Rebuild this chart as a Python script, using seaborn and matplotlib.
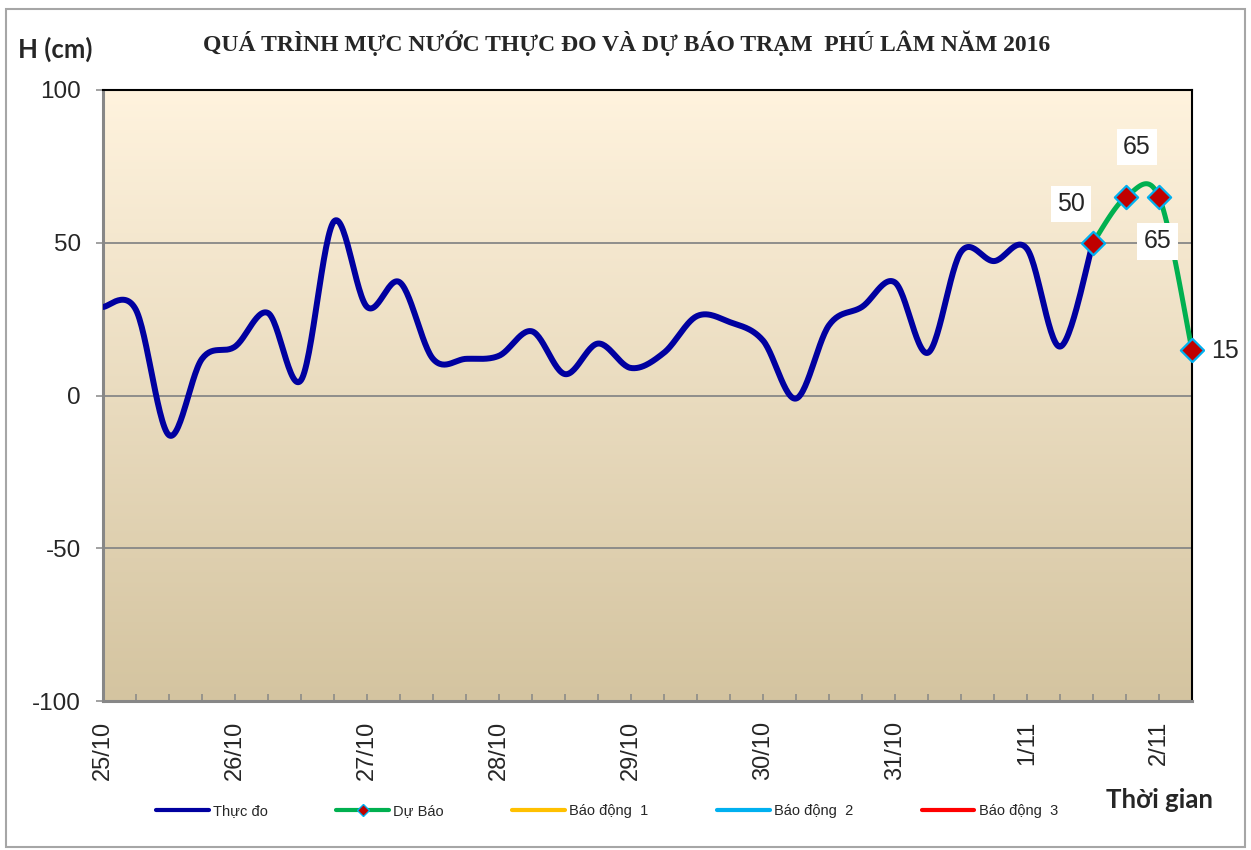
import numpy as np
import seaborn as sns
import matplotlib.pyplot as plt
from matplotlib.colors import LinearSegmentedColormap
from matplotlib.lines import Line2D
from matplotlib.patches import Rectangle

# 6-hourly water level at Phu Lam station, cm
day_labels = ['25/10', '26/10', '27/10', '28/10', '29/10', '30/10', '31/10', '1/11', '2/11']
thuc_do = [29, 28, -13, 12, 16, 27, 5, 57, 29, 37, 12, 12, 13, 21, 7, 17,
           9, 14, 26, 24, 18, -1, 23, 29, 37, 14, 47, 44, 48, 16, 50]
du_bao = [50, 65, 65, 15]
bao_dong = [140, 150, 160]
legend_names = ['Thực đo', 'Dự Báo', 'Báo động  1', 'Báo động  2', 'Báo động  3']

forecast_start = len(thuc_do) - 1
n_steps = forecast_start + len(du_bao) - 1


def smooth(xv, yv, n=30):
    # excel style smoothed line (bezier through the points)
    p = np.column_stack([xv, yv]).astype(float)
    ext = np.vstack([p[0], p, p[-1]])
    t = np.linspace(0, 1, n)[:, None]
    out = []
    for i in range(len(p) - 1):
        p0, p1 = ext[i + 1], ext[i + 2]
        c1 = p0 + (ext[i + 2] - ext[i]) / 6
        c2 = p1 - (ext[i + 3] - ext[i + 1]) / 6
        seg = (1 - t) ** 3 * p0 + 3 * (1 - t) ** 2 * t * c1 + 3 * (1 - t) * t ** 2 * c2 + t ** 3 * p1
        out.append(seg if i == 0 else seg[1:])
    out = np.vstack(out)
    return out[:, 0], out[:, 1]


sns.set_style('white')
plt.rcParams['font.family'] = ['Liberation Sans', 'DejaVu Sans']
plt.rcParams['axes.unicode_minus'] = False

fig = plt.figure(figsize=(12.51, 8.5), dpi=100)
ax = fig.add_axes([103 / 1251, 1 - 701 / 850, (1192 - 103) / 1251, (701 - 90) / 850])

bg = LinearSegmentedColormap.from_list('bg', ['#FFF3DE', '#D4C4A0'])
ax.imshow(np.linspace(0, 1, 256).reshape(-1, 1), cmap=bg, aspect='auto',
          extent=[0, n_steps, -100, 100], origin='upper', zorder=0)

x_obs = np.arange(len(thuc_do))
x_fc = np.arange(forecast_start, forecast_start + len(du_bao))

sx, sy = smooth(x_obs, thuc_do)
sns.lineplot(x=sx, y=sy, ax=ax, color='#0000A0', lw=4.3, sort=False, estimator=None, zorder=3)
fx, fy = smooth(x_fc, du_bao)
sns.lineplot(x=fx, y=fy, ax=ax, color='#00B050', lw=3.6, sort=False, estimator=None, zorder=4)
sns.scatterplot(x=x_fc, y=du_bao, ax=ax, marker='D', s=140, color='#C00000',
                edgecolor='#00B0F0', linewidth=1.6, zorder=5, clip_on=False)

bd_colors = ['#FFC000', '#00B0F0', '#FF0000']
for level, c in zip(bao_dong, bd_colors):
    ax.axhline(level, color=c, lw=3)

ax.set_xlim(0, n_steps)
ax.set_ylim(-100, 100)
ax.set_yticks([-100, -50, 0, 50, 100])
ax.set_xticks(range(n_steps + 1))
ax.set_xticklabels([day_labels[i // 4] if i % 4 == 0 else '' for i in range(n_steps + 1)])
ax.set_xlabel('')
ax.set_ylabel('')
ax.yaxis.grid(True, color='#878787', lw=1.3)
ax.set_axisbelow(True)

ax.tick_params(axis='x', direction='in', length=5, width=1.1, color='#878787',
               pad=14, labelrotation=90, labelsize=17, bottom=True)
ax.tick_params(axis='y', direction='out', length=5, width=1.1, color='#878787',
               pad=11, labelsize=17.5, left=True)
for s in ['left', 'bottom']:
    ax.spines[s].set_color('#878787')
    ax.spines[s].set_linewidth(2.2)
for s in ['top', 'right']:
    ax.spines[s].set_color('black')
    ax.spines[s].set_linewidth(1.5)

box = dict(boxstyle='square,pad=0.25', fc='white', ec='none')
label_offsets = [(-16, 28), (8, 36), (-1, -32), (24, -1)]
for xi, yi, off in zip(x_fc, du_bao, label_offsets):
    ax.annotate(str(yi), xy=(xi, yi), xytext=off, textcoords='offset points',
                ha='center', va='center', fontsize=18, bbox=box, zorder=6)

fig.text(627 / 1251, 1 - 43 / 850, 'QUÁ TRÌNH MỰC NƯỚC THỰC ĐO VÀ DỰ BÁO TRẠM  PHÚ LÂM NĂM 2016',
         ha='center', va='center', fontsize=17, fontweight='bold',
         family=['Liberation Serif', 'DejaVu Serif'])
fig.text(18 / 1251, 1 - 49 / 850, 'H (cm)', ha='left', va='center', fontsize=18.5,
         fontweight='bold', family=['Lato', 'DejaVu Sans'])
fig.text(1160 / 1251, 1 - 800 / 850, 'Thời gian', ha='center', va='center', fontsize=18.5,
         fontweight='bold', family=['Lato', 'DejaVu Sans'])

handles = [Line2D([], [], color='#0000A0', lw=3),
           Line2D([], [], color='#00B050', lw=3, marker='D', markersize=6,
                  markerfacecolor='#C00000', markeredgecolor='#00B0F0'),
           Line2D([], [], color=bd_colors[0], lw=3),
           Line2D([], [], color=bd_colors[1], lw=3),
           Line2D([], [], color=bd_colors[2], lw=3)]
fig.legend(handles, legend_names, loc='center', bbox_to_anchor=(607 / 1251, 1 - 811 / 850),
           ncol=5, frameon=False, fontsize=10.5, handlelength=3.6, handletextpad=0.3,
           columnspacing=4.7)

fig.patches.append(Rectangle((6 / 1251, 3 / 850), 1239 / 1251, 838 / 850, transform=fig.transFigure,
                             fill=False, ec='#A6A6A6', lw=1.5))

fig.savefig('out.png', dpi=100)
